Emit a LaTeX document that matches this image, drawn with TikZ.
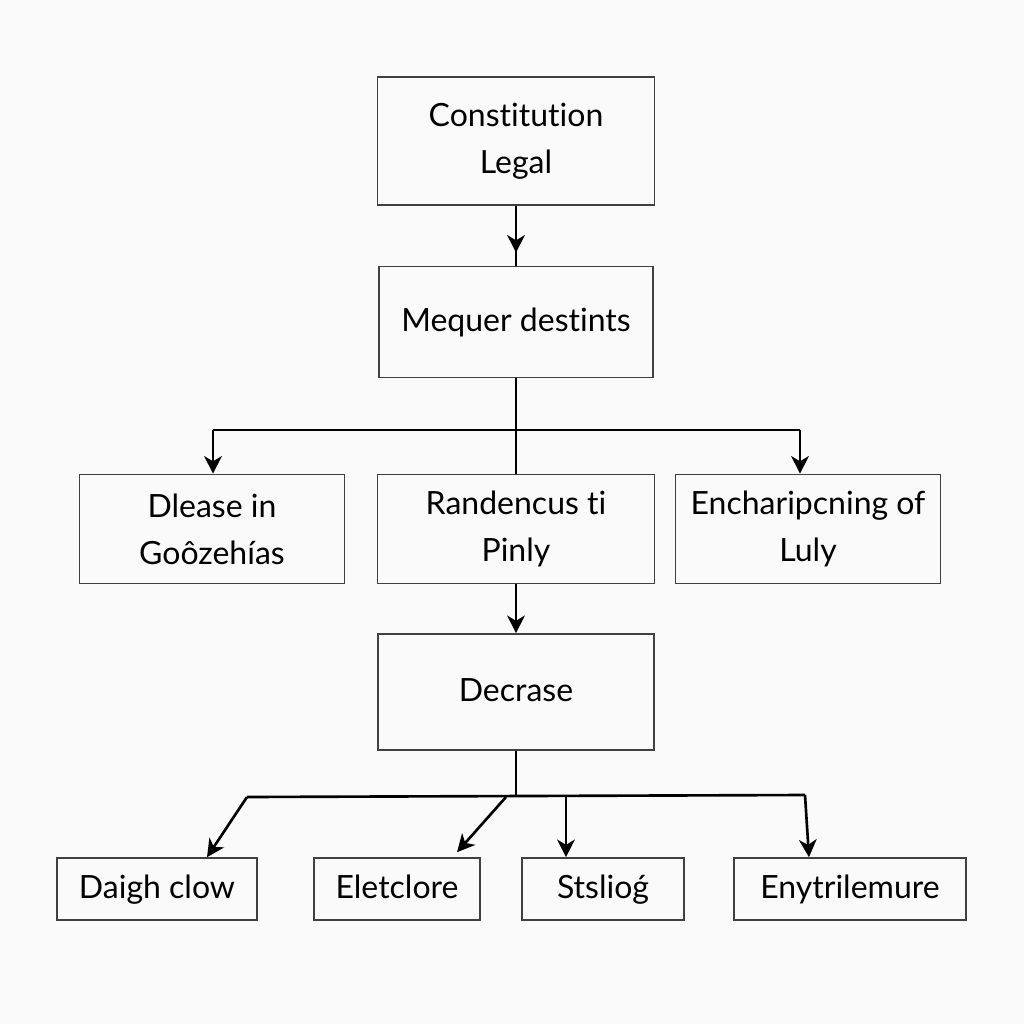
\documentclass[tikz,border=0pt]{standalone}
\usepackage{fontspec}
\setmainfont{Lato}[Ligatures=NoCommon]
\usetikzlibrary{arrows.meta}
\definecolor{paper}{HTML}{FAFAFA}
\tikzset{
  box/.style={draw=black!75,line width=0.45pt,align=center,inner sep=0pt,
    font=\fontsize{9.1}{13.4}\selectfont},
  onebox/.style={box,text height=1.55ex,text depth=0.45ex},
  link/.style={line width=0.75pt},
  arr/.style={link,-{Stealth[length=5pt,width=5pt,inset=1.5pt]}}
}
\begin{document}
\begin{tikzpicture}[x=0.01cm,y=-0.01cm]
  \fill[paper] (0,0) rectangle (1024,1024);
  \useasboundingbox (0,0) rectangle (1024,1024);
  % top of the chart
  \node[box,minimum width=2.77cm,minimum height=1.28cm] (const) at (516,141) {Constitution\\Legal};
  \node[onebox,minimum width=2.74cm,minimum height=1.11cm] (mequer) at (516,322) {Mequer destints};
  % middle row
  \node[box,minimum width=2.65cm,minimum height=1.09cm] (dlease) at (212,529) {Dlease in\\Goôzehías};
  \node[box,minimum width=2.77cm,minimum height=1.09cm] (rand) at (516,529) {Randencus ti\\Pinly};
  \node[box,minimum width=2.65cm,minimum height=1.09cm] (ench) at (808,529) {Encharipcning of\\Luly};
  \node[onebox,minimum width=2.76cm,minimum height=1.16cm] (decr) at (516,692) {Decrase};
  % bottom row
  \node[onebox,minimum width=2.00cm,minimum height=0.62cm] (daigh) at (157,889) {Daigh clow};
  \node[onebox,minimum width=1.66cm,minimum height=0.62cm] (elet) at (397,889) {Eletclore};
  \node[onebox,minimum width=1.62cm,minimum height=0.62cm] (stsl) at (603,889) {Stslioǵ};
  \node[onebox,minimum width=2.32cm,minimum height=0.62cm] (enyt) at (850,889) {Enytrilemure};

  \draw[link] (const.south) -- (mequer.north);
  \draw[arr] (const.south) -- ([yshift=0.13cm]mequer.north);
  \draw[link] (mequer.south) -- (rand.north);
  \coordinate (bl) at (213,430);
  \coordinate (br) at (800,430);
  \draw[link] (bl) -- (br);
  \draw[arr] (bl) -- (bl |- dlease.north);
  \draw[arr] (br) -- (br |- ench.north);
  \draw[arr] (rand.south) -- (decr.north);

  \coordinate (fork) at (516,797);
  \coordinate (ll) at (247,797);
  \coordinate (rr) at (805,795);
  \coordinate (m1) at (506,797);
  \coordinate (m2) at (566,797);
  \draw[link] (decr.south) -- (fork);
  \draw[link] (ll) -- (rr);
  \draw[arr] (ll) -- ([xshift=0.5cm]daigh.north);
  \draw[arr] (m1) -- ([xshift=0.6cm,yshift=0.05cm]elet.north);
  \draw[arr] (m2) -- (m2 |- stsl.north);
  \draw[arr] (rr) -- ([xshift=-0.41cm]enyt.north);
\end{tikzpicture}
\end{document}
